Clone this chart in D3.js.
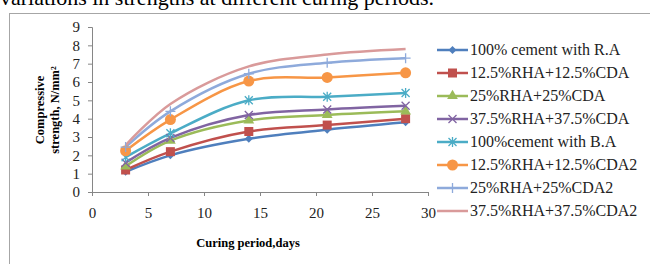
<!DOCTYPE html>
<html>
<head>
<meta charset="utf-8">
<script src="https://cdn.jsdelivr.net/npm/d3@7"></script>
<style>
  body { margin: 0; background: #fff; }
  svg { display: block; font-family: "Liberation Serif", "Times New Roman", serif; }
</style>
</head>
<body>
<svg id="chart" width="650" height="264"></svg>
<script>
// data
var days = [3, 7, 14, 21, 28];
var seriesNames = [
  "100% cement with R.A",
  "12.5%RHA+12.5%CDA",
  "25%RHA+25%CDA",
  "37.5%RHA+37.5%CDA",
  "100%cement with B.A",
  "12.5%RHA+12.5%CDA2",
  "25%RHA+25%CDA2",
  "37.5%RHA+37.5%CDA2"
];
var cementRA   = [1.1, 2.0, 2.9, 3.4, 3.8];
var rha125     = [1.2, 2.2, 3.3, 3.65, 4.0];
var rha25      = [1.4, 2.8, 3.9, 4.2, 4.4];
var rha375     = [1.6, 2.95, 4.2, 4.5, 4.7];
var cementBA   = [1.9, 3.2, 5.0, 5.2, 5.4];
var rha125b    = [2.25, 3.95, 6.05, 6.25, 6.5];
var rha25b     = [2.45, 4.4, 6.45, 7.05, 7.3];
var rha375b    = [2.55, 4.8, 6.85, 7.5, 7.8];
var xTicks = [0, 5, 10, 15, 20, 25, 30];
var yTicks = [0, 1, 2, 3, 4, 5, 6, 7, 8, 9];

var allValues = [cementRA, rha125, rha25, rha375, cementBA, rha125b, rha25b, rha375b];
var colors = ["#4f7fbd", "#c0504d", "#9bbb59", "#8064a2", "#4bacc6", "#f79646", "#8eaadb", "#d99a9a"];
var markers = ["diamond", "square", "triangle", "cross", "star", "circle", "plus", "none"];

var svg = d3.select("#chart");

// caption text cut at the top of the picture
svg.append("text")
  .attr("x", 0)
  .attr("y", 5)
  .style("font-size", "22px")
  .attr("fill", "#000")
  .text("variations in strengths at different curing periods.");

// chart frame
svg.append("rect")
  .attr("x", 9.5).attr("y", 13.5)
  .attr("width", 700).attr("height", 300)
  .attr("fill", "none")
  .attr("stroke", "#a6a6a6");

var x = d3.scaleLinear([0, 30], [92, 428]);
var y = d3.scaleLinear([0, 9], [192, 27]);

// y axis
var yAxis = d3.axisLeft(y).tickValues(yTicks).tickSize(4).tickPadding(8);
var gy = svg.append("g").attr("transform", "translate(" + x(0) + ",0)").call(yAxis);
gy.attr("font-family", null);
gy.select(".domain").attr("stroke", "#868686");
gy.selectAll(".tick line").attr("stroke", "#868686");
gy.selectAll("text").style("font-size", "15px").attr("fill", "#222");

// x axis
var xAxis = d3.axisBottom(x).tickValues(xTicks).tickSize(4).tickPadding(11);
var gx = svg.append("g").attr("transform", "translate(0," + y(0) + ")").call(xAxis);
gx.attr("font-family", null);
gx.select(".domain").attr("stroke", "#868686");
gx.selectAll(".tick line").attr("stroke", "#868686");
gx.selectAll("text").style("font-size", "15px").attr("fill", "#222");

// axis titles
svg.append("text")
  .attr("x", 248).attr("y", 247)
  .attr("text-anchor", "middle")
  .style("font-size", "12.5px").style("font-weight", "bold")
  .text("Curing period,days");

var yt = svg.append("text")
  .attr("transform", "translate(44,110) rotate(-90)")
  .attr("text-anchor", "middle")
  .style("font-size", "12.5px").style("font-weight", "bold");
yt.append("tspan").attr("x", 0).attr("dy", 0).text("Compressive");
yt.append("tspan").attr("x", 0).attr("dy", 15).text("strength, N/mm²");

function drawMarker(g, kind, color, cx, cy) {
  if (kind === "diamond") {
    g.append("path").attr("d", d3.symbol(d3.symbolDiamond2, 40)()).attr("transform", "translate(" + cx + "," + cy + ")").attr("fill", color);
  } else if (kind === "square") {
    g.append("rect").attr("x", cx - 4.5).attr("y", cy - 4.5).attr("width", 9).attr("height", 9).attr("fill", color);
  } else if (kind === "triangle") {
    g.append("path").attr("d", d3.symbol(d3.symbolTriangle, 50)()).attr("transform", "translate(" + cx + "," + cy + ")").attr("fill", color);
  } else if (kind === "circle") {
    g.append("circle").attr("cx", cx).attr("cy", cy).attr("r", 5.5).attr("fill", color);
  } else if (kind === "cross") {
    g.append("path").attr("d", "M-4,-4L4,4M-4,4L4,-4").attr("transform", "translate(" + cx + "," + cy + ")").attr("stroke", color).attr("stroke-width", 1.3);
  } else if (kind === "star") {
    g.append("path").attr("d", "M-4,-4L4,4M-4,4L4,-4M0,-5L0,5").attr("transform", "translate(" + cx + "," + cy + ")").attr("stroke", color).attr("stroke-width", 1.3);
  } else if (kind === "plus") {
    g.append("path").attr("d", "M0,-5L0,5M-5,0L5,0").attr("transform", "translate(" + cx + "," + cy + ")").attr("stroke", color).attr("stroke-width", 1.3);
  }
}

var line = d3.line()
  .x((d, i) => x(days[i]))
  .y(d => y(d))
  .curve(d3.curveCatmullRom.alpha(0.5));

var plot = svg.append("g");
allValues.forEach(function(vals, s) {
  plot.append("path")
    .attr("d", line(vals))
    .attr("fill", "none")
    .attr("stroke", colors[s])
    .attr("stroke-width", 2.5);
});
allValues.forEach(function(vals, s) {
  vals.forEach(function(v, i) {
    drawMarker(plot, markers[s], colors[s], x(days[i]), y(v));
  });
});

// legend
var legend = svg.append("g");
seriesNames.forEach(function(name, i) {
  var ly = 50 + i * 23;
  var row = legend.append("g");
  row.append("line")
    .attr("x1", 437).attr("x2", 468)
    .attr("y1", ly).attr("y2", ly)
    .attr("stroke", colors[i]).attr("stroke-width", 2.5);
  drawMarker(row, markers[i], colors[i], 452.5, ly);
  row.append("text")
    .attr("x", 470).attr("y", ly + 5)
    .style("font-size", "16px")
    .attr("fill", "#222")
    .text(name);
});
</script>
</body>
</html>
